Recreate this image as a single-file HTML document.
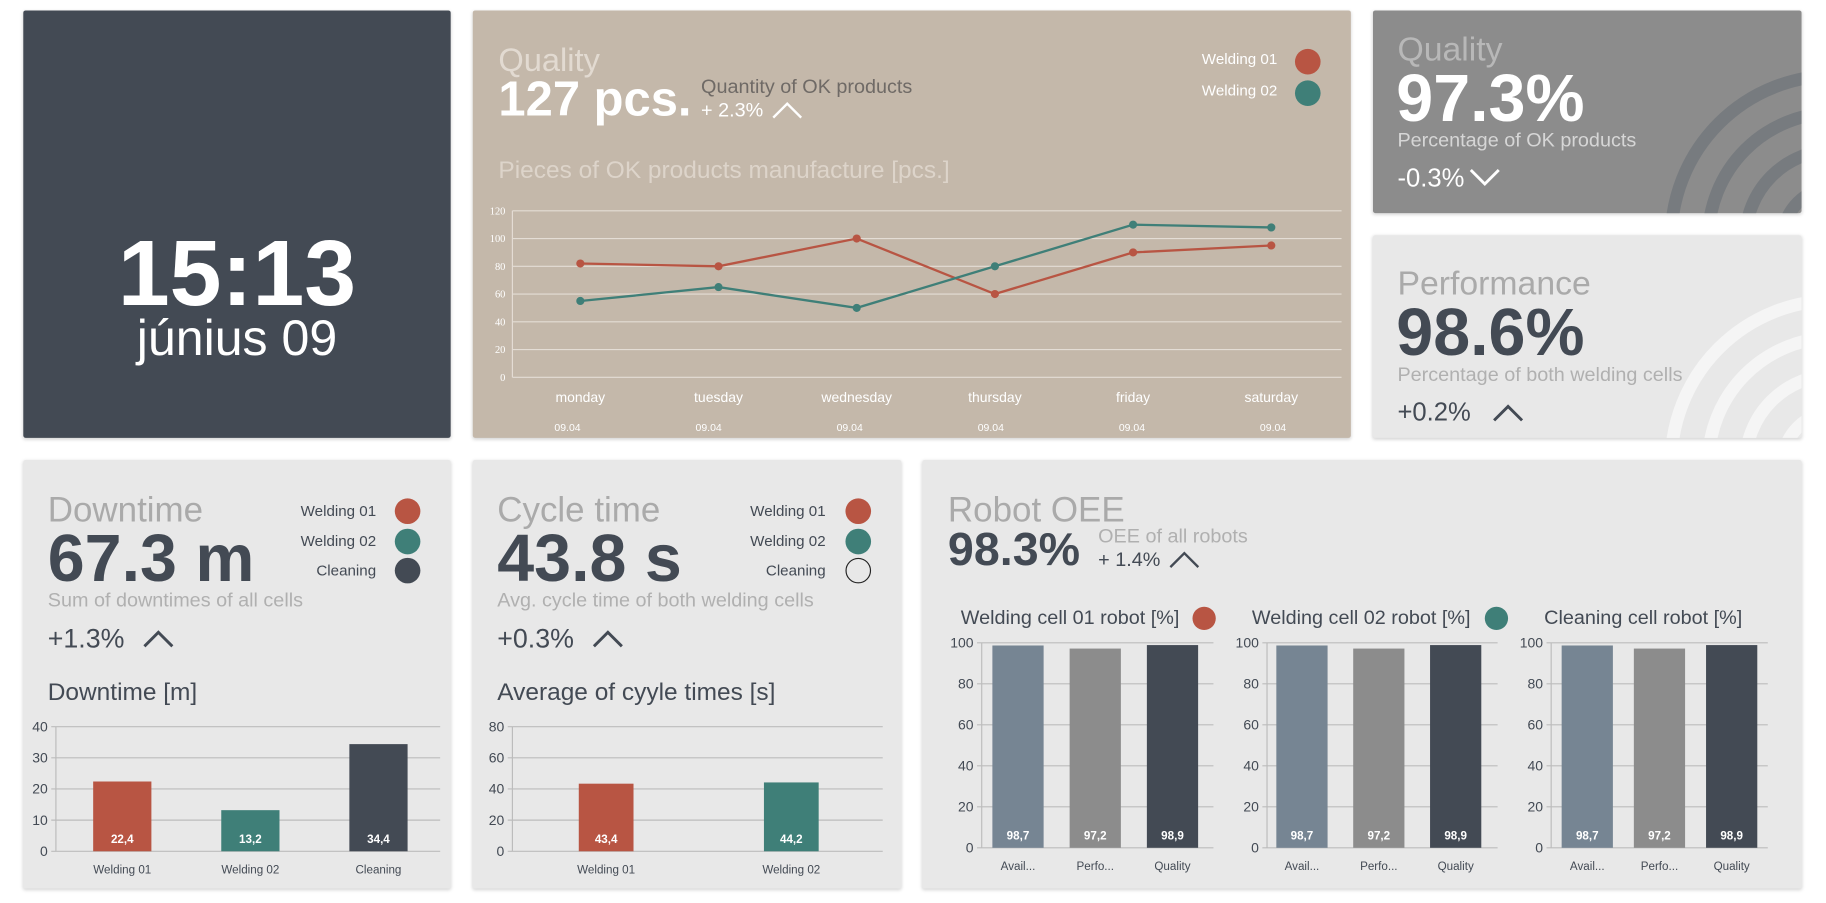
<!DOCTYPE html>
<html><head><meta charset="utf-8">
<style>
html,body{margin:0;padding:0;background:#fff;width:1826px;height:903px;overflow:hidden}
#wrap{position:absolute;left:0;top:0;width:1568px;height:775px;transform:scale(1.16454);transform-origin:0 0;font-family:"Liberation Sans",sans-serif;overflow:hidden}
.card{position:absolute;border-radius:2px;box-shadow:0 1px 3px rgba(0,0,0,0.18);overflow:hidden}
.t{position:absolute;white-space:nowrap;line-height:1}
svg{position:absolute;left:0;top:0}
</style></head><body>
<div id="wrap">
<div class="card" style="left:20px;top:9px;width:367px;height:367px;background:#434a54"></div>
<div class="card" style="left:406px;top:9px;width:754px;height:367px;background:#c4b8aa"></div>
<div class="card" style="left:1179px;top:9px;width:368px;height:174px;background:#8c8c8c"></div>
<div class="card" style="left:1179px;top:202px;width:368px;height:174px;background:#e8e8e8"></div>
<div class="card" style="left:20px;top:395px;width:367px;height:368px;background:#e8e8e8"></div>
<div class="card" style="left:406px;top:395px;width:368px;height:368px;background:#e8e8e8"></div>
<div class="card" style="left:792px;top:395px;width:755px;height:368px;background:#e8e8e8"></div>

<svg width="1568" height="775">
<defs><clipPath id="c1"><rect x="1179" y="9" width="368" height="174"/></clipPath><clipPath id="c2"><rect x="1179" y="202" width="368" height="174"/></clipPath></defs>
<g clip-path="url(#c1)" fill="none" stroke="#777b7f" stroke-width="11">
<circle cx="1575" cy="205" r="140"/><circle cx="1575" cy="205" r="108"/><circle cx="1575" cy="205" r="76"/><circle cx="1575" cy="205" r="44"/></g>
<g clip-path="url(#c2)" fill="none" stroke="#f5f5f5" stroke-width="11">
<circle cx="1575" cy="398" r="140"/><circle cx="1575" cy="398" r="108"/><circle cx="1575" cy="398" r="76"/><circle cx="1575" cy="398" r="44"/></g>
</svg>

<div class="t" style="left:20px;width:367px;text-align:center;top:195px;font-size:80px;font-weight:bold;color:#fff">15:13</div>
<div class="t" style="left:20px;width:367px;text-align:center;top:270px;font-size:43px;color:#fff">június 09</div>

<div class="t" style="left:428px;top:38px;font-size:28px;color:#e2dad1">Quality</div>
<div class="t" style="left:428px;top:64px;font-size:42px;font-weight:bold;color:#fff">127 pcs.</div>
<div class="t" style="left:602px;top:66px;font-size:17px;color:#6f6a66">Quantity of OK products</div>
<div class="t" style="left:602px;top:86px;font-size:17px;color:#fff">+ 2.3%</div>
<div class="t" style="left:1032px;top:44px;font-size:13px;color:#fff">Welding 01</div>
<div class="t" style="left:1032px;top:71px;font-size:13px;color:#fff">Welding 02</div>
<div class="t" style="left:428px;top:136px;font-size:21px;color:#ddd4ca">Pieces of OK products manufacture [pcs.]</div>

<div class="t" style="left:1200px;top:29px;font-size:29px;color:#b8b8b8">Quality</div>
<div class="t" style="left:1199px;top:57px;font-size:57px;font-weight:bold;color:#fff">97.3%</div>
<div class="t" style="left:1200px;top:112px;font-size:17px;color:#d6d6d6">Percentage of OK products</div>
<div class="t" style="left:1200px;top:142px;font-size:22px;color:#fff">-0.3%</div>

<div class="t" style="left:1200px;top:230px;font-size:29px;color:#aaa">Performance</div>
<div class="t" style="left:1199px;top:258px;font-size:57px;font-weight:bold;color:#434a54">98.6%</div>
<div class="t" style="left:1200px;top:313px;font-size:17px;color:#b0b0b0">Percentage of both welding cells</div>
<div class="t" style="left:1200px;top:343px;font-size:22px;color:#434a54">+0.2%</div>

<div class="t" style="left:41px;top:424px;font-size:30px;color:#aaa">Downtime</div>
<div class="t" style="left:41px;top:452px;font-size:57px;font-weight:bold;color:#434a54">67.3 m</div>
<div class="t" style="left:41px;top:507px;font-size:17px;color:#b0b0b0">Sum of downtimes of all cells</div>
<div class="t" style="left:41px;top:537px;font-size:23px;color:#434a54">+1.3%</div>
<div class="t" style="left:41px;top:584px;font-size:21px;color:#434a54">Downtime [m]</div>
<div class="t" style="left:200px;width:123px;text-align:right;top:432px;font-size:13px;color:#434a54">Welding 01</div>
<div class="t" style="left:200px;width:123px;text-align:right;top:458px;font-size:13px;color:#434a54">Welding 02</div>
<div class="t" style="left:200px;width:123px;text-align:right;top:483px;font-size:13px;color:#434a54">Cleaning</div>

<div class="t" style="left:427px;top:424px;font-size:30px;color:#aaa">Cycle time</div>
<div class="t" style="left:427px;top:452px;font-size:57px;font-weight:bold;color:#434a54">43.8 s</div>
<div class="t" style="left:427px;top:507px;font-size:17px;color:#b0b0b0">Avg. cycle time of both welding cells</div>
<div class="t" style="left:427px;top:537px;font-size:23px;color:#434a54">+0.3%</div>
<div class="t" style="left:427px;top:584px;font-size:21px;color:#434a54">Average of cyyle times [s]</div>
<div class="t" style="left:586px;width:123px;text-align:right;top:432px;font-size:13px;color:#434a54">Welding 01</div>
<div class="t" style="left:586px;width:123px;text-align:right;top:458px;font-size:13px;color:#434a54">Welding 02</div>
<div class="t" style="left:586px;width:123px;text-align:right;top:483px;font-size:13px;color:#434a54">Cleaning</div>

<div class="t" style="left:814px;top:424px;font-size:30px;color:#aaa">Robot OEE</div>
<div class="t" style="left:814px;top:452px;font-size:40px;font-weight:bold;color:#434a54">98.3%</div>
<div class="t" style="left:943px;top:452px;font-size:17px;color:#b0b0b0">OEE of all robots</div>
<div class="t" style="left:943px;top:472px;font-size:17px;color:#434a54">+ 1.4%</div>
<div class="t" style="left:825px;top:522px;font-size:17px;color:#434a54">Welding cell 01 robot [%]</div>
<div class="t" style="left:1075px;top:522px;font-size:17px;color:#434a54">Welding cell 02 robot [%]</div>
<div class="t" style="left:1326px;top:522px;font-size:17px;color:#434a54">Cleaning cell robot [%]</div>

<svg id="icons" width="1568" height="775">
<polyline points="664,101 676,89 688,101" fill="none" stroke="#fff" stroke-width="2"/>
<circle cx="1123" cy="53" r="11" fill="#b85543"/><circle cx="1123" cy="80" r="11" fill="#3f7f78"/>
<polyline points="1263,146 1275,158 1287,146" fill="none" stroke="#fff" stroke-width="2.5"/>
<polyline points="1283,361 1295,349 1307,361" fill="none" stroke="#434a54" stroke-width="2.5"/>
<polyline points="124,555 136,543 148,555" fill="none" stroke="#434a54" stroke-width="2.5"/>
<polyline points="510,555 522,543 534,555" fill="none" stroke="#434a54" stroke-width="2.5"/>
<polyline points="1005,487 1017,475 1029,487" fill="none" stroke="#434a54" stroke-width="2"/>
<circle cx="350" cy="439" r="11" fill="#b85543"/><circle cx="350" cy="465" r="11" fill="#3f7f78"/><circle cx="350" cy="490" r="11" fill="#434a54"/>
<circle cx="737" cy="439" r="11" fill="#b85543"/><circle cx="737" cy="465" r="11" fill="#3f7f78"/><circle cx="737" cy="490" r="10.5" fill="none" stroke="#222" stroke-width="1"/>
<circle cx="1034" cy="531" r="10" fill="#b85543"/><circle cx="1285" cy="531" r="10" fill="#3f7f78"/>
</svg>
<svg id="charts" width="1568" height="775"></svg>
</div>
<script>
// line chart data
const days = ["monday","tuesday","wednesday","thursday","friday","saturday"];
const dates = ["09.04","09.04","09.04","09.04","09.04","09.04"];
const welding01 = [82,80,100,60,90,95];
const welding02 = [55,65,50,80,110,108];
const lineTicks = [0,20,40,60,80,100,120];
// downtime
const dtCats = ["Welding 01","Welding 02","Cleaning"];
const dtValues = [22.4,13.2,34.4];
const dtLabels = ["22,4","13,2","34,4"];
const dtTicks = [0,10,20,30,40];
// cycle
const ctCats = ["Welding 01","Welding 02"];
const ctValues = [43.4,44.2];
const ctLabels = ["43,4","44,2"];
const ctTicks = [0,20,40,60,80];
// OEE
const oeeCats = ["Avail...","Perfo...","Quality"];
const oee1 = [98.7,97.2,98.9];
const oee2 = [98.7,97.2,98.9];
const oee3 = [98.7,97.2,98.9];
const oeeLabels = ["98,7","97,2","98,9"];
const oeeTicks = [0,20,40,60,80,100];

const NS="http://www.w3.org/2000/svg";
const svg=document.getElementById('charts');
function mk(tag,attrs,parent){const e=document.createElementNS(NS,tag);for(const k in attrs)e.setAttribute(k,attrs[k]);(parent||svg).appendChild(e);return e;}
function txt(x,y,s,attrs){const e=mk('text',Object.assign({x:x,y:y},attrs));e.textContent=s;return e;}

// line chart
(function(){
 const x0=440,x1=1152,yTop=181,yBot=324,max=120;
 const y=v=>yBot-(v/max)*(yBot-yTop);
 const bw=(x1-x0)/days.length;const x=i=>x0+bw*(i+0.5)-1;
 lineTicks.forEach(t=>{const l=mk('line',{x1:x0,x2:x1,y1:y(t),y2:y(t),stroke:'#e4ddd5','stroke-width':1});
 
 
 const tx=txt(x0-6,y(t)+3,t,{'font-size':9,fill:'#fff','text-anchor':'end','font-family':'Liberation Serif'});
 
 });
 mk('line',{x1:x0,x2:x0,y1:yTop,y2:yBot,stroke:'#e4ddd5'});
 days.forEach((d,i)=>{const a=txt(x(i),345,d,{'font-size':12,fill:'#fff','text-anchor':'middle'});
 
 
 const b=txt(x(i)-11+i*2.5,370,dates[i],{'font-size':9,fill:'#fff','text-anchor':'middle'});
 
 });
 [[welding01,'#b85543','welding-01'],[welding02,'#3f7f78','welding-02']].forEach(([vals,c,n])=>{
  const p=mk('polyline',{points:vals.map((v,i)=>x(i)+','+y(v)).join(' '),fill:'none',stroke:c,'stroke-width':2});
  
  
  vals.forEach((v,i)=>{const pt=mk('circle',{cx:x(i),cy:y(v),r:3.5,fill:c});
  
  });
 });
})();

function barChart(o){
 const y=v=>o.yBot-(v/o.max)*(o.yBot-o.yTop);
 const bw=(o.x1-o.x0)/o.cats.length;const x=i=>o.x0+bw*(i+0.5)+(o.shift||0);
 o.ticks.forEach(t=>{const l=mk('line',{x1:o.x0-4,x2:o.x1,y1:y(t),y2:y(t),stroke:'#bcbcbc','stroke-width':1});
 
 
 const tx=txt(o.x0-7,y(t)+4,t,{'font-size':12,fill:'#434a54','text-anchor':'end'});
 
 });
 mk('line',{x1:o.x0,x2:o.x0,y1:o.yTop,y2:o.yBot,stroke:'#bcbcbc'});
 o.cats.forEach((c,i)=>{
  const r=mk('rect',{x:x(i)-o.w/2,y:y(o.vals[i]),width:o.w,height:o.yBot-y(o.vals[i]),fill:o.colors[i]});
  
  
  const v=txt(x(i),o.yBot-7,o.labels[i],{'font-size':10,'font-weight':'bold',fill:'#fff','text-anchor':'middle'});
  
  
  const cl=txt(x(i),o.yBot+19,c,{'font-size':10,fill:'#434a54','text-anchor':'middle'});
  
  
 });
}
barChart({name:'downtime',x0:48,x1:378,yTop:624,yBot:731,max:40,cats:dtCats,vals:dtValues,labels:dtLabels,ticks:dtTicks,w:50,colors:['#b85543','#3f7f78','#434a54'],shift:2});
barChart({name:'cycle',x0:440,x1:758,yTop:624,yBot:731,max:80,cats:ctCats,vals:ctValues,labels:ctLabels,ticks:ctTicks,w:47,colors:['#b85543','#3f7f78'],shift:1});
const oc=['#768593','#8c8c8c','#434a54'];
barChart({name:'oee-cell1',x0:843,x1:1042,yTop:552,yBot:728,max:100,cats:oeeCats,vals:oee1,labels:oeeLabels,ticks:oeeTicks,w:44,colors:oc,shift:-2});
barChart({name:'oee-cell2',x0:1088,x1:1286,yTop:552,yBot:728,max:100,cats:oeeCats,vals:oee2,labels:oeeLabels,ticks:oeeTicks,w:44,colors:oc,shift:-3});
barChart({name:'oee-cell3',x0:1332,x1:1518,yTop:552,yBot:728,max:100,cats:oeeCats,vals:oee3,labels:oeeLabels,ticks:oeeTicks,w:44,colors:oc,shift:0});
</script>
</body></html>
